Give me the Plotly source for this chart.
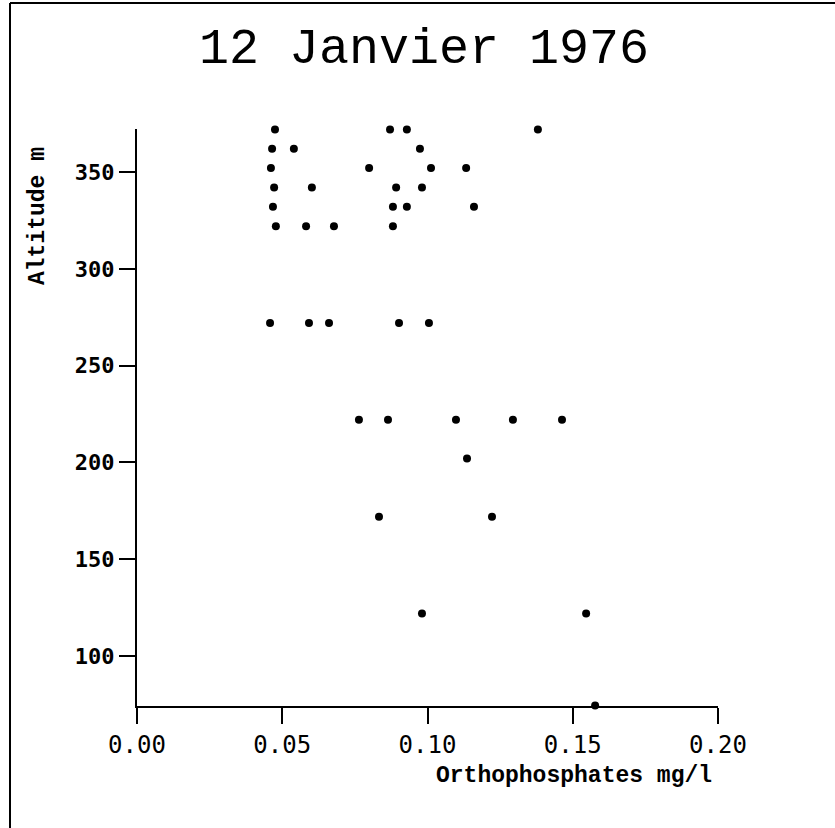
import plotly.graph_objects as go

# Data (Orthophosphates mg/l vs Altitude m)
altitude = [372, 372, 372, 372,
            362, 362, 362,
            352, 352, 352, 352,
            342, 342, 342, 342,
            332, 332, 332, 332,
            322, 322, 322, 322,
            272, 272, 272, 272, 272,
            222, 222, 222, 222, 222,
            202,
            172, 172,
            122, 122,
            74.5]
orthophosphates = [0.0475, 0.0871, 0.0929, 0.138,
                   0.0465, 0.054, 0.0974,
                   0.0461, 0.0799, 0.1012, 0.1133,
                   0.0472, 0.0602, 0.0892, 0.0981,
                   0.0468, 0.0881, 0.0929, 0.116,
                   0.0478, 0.0582, 0.0678, 0.0881,
                   0.0458, 0.0592, 0.0661, 0.0902, 0.1005,
                   0.0764, 0.0864, 0.1098, 0.1294, 0.1463,
                   0.1136,
                   0.0833, 0.1222,
                   0.0981, 0.1546,
                   0.1577]

x_ticks = [0.0, 0.05, 0.10, 0.15, 0.20]
x_ticklabels = ["0.00", "0.05", "0.10", "0.15", "0.20"]
y_ticks = [100, 150, 200, 250, 300, 350]

title_text = "12 Janvier 1976"
x_title = "Orthophosphates mg/l"
y_title = "Altitude m"

W, H = 835, 828
ML, MR, MT, MB = 137, 117, 129, 122
PW = W - ML - MR
PH = H - MT - MB

def px_x(px):
    return (px - ML) / PW

def px_y(py):
    return (H - MB - py) / PH

fig = go.Figure()
fig.add_trace(go.Scatter(
    x=orthophosphates, y=altitude, mode="markers",
    marker=dict(color="black", size=8, symbol="circle"),
    cliponaxis=False, showlegend=False,
))

fig.update_layout(
    width=W, height=H,
    margin=dict(l=ML, r=MR, t=MT, b=MB),
    paper_bgcolor="white", plot_bgcolor="white",
    font=dict(family="DejaVu Sans Mono", color="black"),
    xaxis=dict(
        range=[0, 0.2], tickvals=x_ticks, ticktext=x_ticklabels,
        showline=True, linecolor="black", linewidth=2,
        ticks="outside", ticklen=16, tickwidth=2, tickcolor="black",
        showgrid=False, zeroline=False,
        tickfont=dict(family="DejaVu Sans Mono", size=24, color="black"),
    ),
    yaxis=dict(
        range=[74.2, 372.2], tickvals=y_ticks,
        showline=True, linecolor="black", linewidth=2,
        ticks="outside", ticklen=16, tickwidth=2, tickcolor="black",
        showgrid=False, zeroline=False,
        tickfont=dict(family="DejaVu Sans Mono", size=22, color="black", weight="bold"),
    ),
    annotations=[
        dict(text=title_text, xref="paper", yref="paper",
             x=px_x(424), y=px_y(49), xanchor="center", yanchor="middle",
             showarrow=False,
             font=dict(family="Liberation Mono", size=50, color="black")),
        dict(text=x_title, xref="paper", yref="paper",
             x=px_x(574), y=px_y(776), xanchor="center", yanchor="middle",
             showarrow=False,
             font=dict(family="Liberation Mono", size=23, color="black", weight="bold")),
        dict(text=y_title, xref="paper", yref="paper",
             x=px_x(38), y=px_y(216), xanchor="center", yanchor="middle",
             showarrow=False, textangle=-90,
             font=dict(family="Liberation Mono", size=23, color="black", weight="bold")),
    ],
    shapes=[
        dict(type="line", xref="paper", yref="paper",
             x0=px_x(10), x1=px_x(10), y0=px_y(H), y1=px_y(3),
             line=dict(color="black", width=2)),
        dict(type="line", xref="paper", yref="paper",
             x0=px_x(10), x1=px_x(W), y0=px_y(3), y1=px_y(3),
             line=dict(color="black", width=2)),
    ],
)

fig.write_html("out.html", config={"displayModeBar": False},
               post_script="document.body.style.margin='0';")
